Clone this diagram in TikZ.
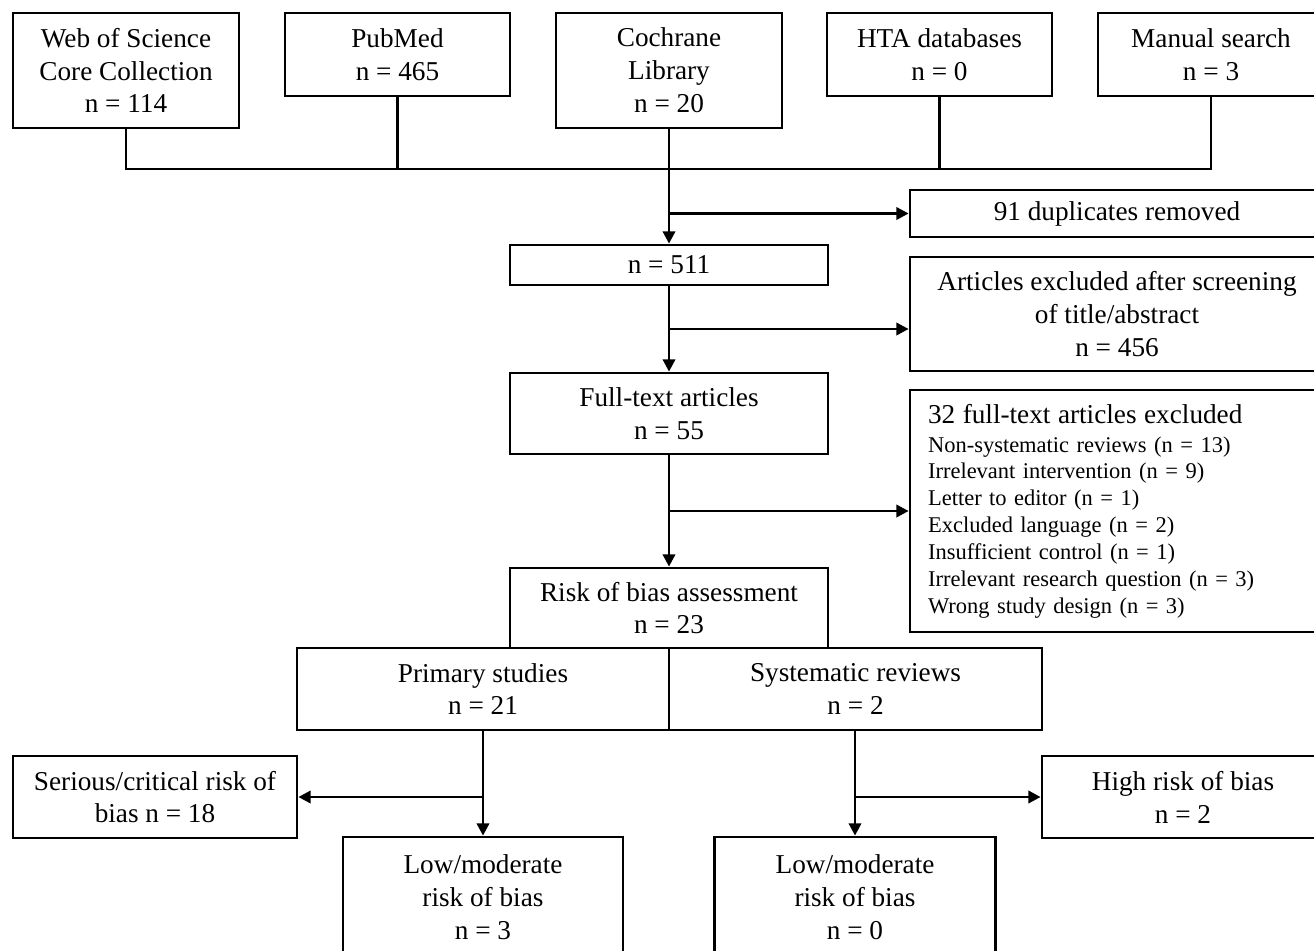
\documentclass[tikz,border=0pt]{standalone}
\usepackage{fontspec}
\setmainfont{Liberation Serif}
\usetikzlibrary{arrows.meta,calc}
\tikzset{
  box/.style={draw, line width=1.6pt, align=center, inner sep=0pt,
    font=\fontsize{15.5}{18.7}\selectfont},
  link/.style={line width=1.6pt},
  arr/.style={line width=1.6pt, -{Triangle[length=7pt,width=7pt]}},
}
\begin{document}
\begin{tikzpicture}[x=0.02cm,y=-0.02cm]
   \clip (0,0) rectangle (1314,950);
   \fill[white] (0,0) rectangle (1314,950);
   % databases
   \node[box, minimum width=4.52cm, minimum height=2.3cm] (wos) at (126,70.5) {Web of Science\\Core Collection\\n = 114};
   \node[box, minimum width=4.5cm, minimum height=1.66cm] (pubmed) at (397.5,54.5) {PubMed\\n = 465};
   \node[box, minimum width=4.52cm, minimum height=2.3cm] (cochrane) at (669,70.5) {Cochrane\\Library\\n = 20};
   \node[box, minimum width=4.5cm, minimum height=1.66cm] (hta) at (939.5,54.5) {HTA databases\\n = 0};
   \node[box, minimum width=4.52cm, minimum height=1.66cm] (manual) at (1211,54.5) {Manual search\\n = 3};
   % main column
   \node[box, minimum width=6.36cm, minimum height=0.8cm] (total) at (669,265) {n = 511};
   \node[box, minimum width=6.36cm, minimum height=1.62cm] (fulltext) at (669,413.5) {Full-text articles\\n = 55};
   \node[box, minimum width=6.36cm, minimum height=1.6cm] (rob) at (669,608) {Risk of bias assessment\\n = 23};
   \node[box, minimum width=7.44cm, minimum height=1.64cm] (primary) at (483,689) {Primary studies\\n = 21};
   \node[box, minimum width=7.46cm, minimum height=1.64cm] (sysrev) at (855.5,689) {Systematic reviews\\n = 2};
   % exclusions
   \node[box, minimum width=8.28cm, minimum height=0.94cm] (dup) at (1117,213.5) {91 duplicates removed};
   \node[box, minimum width=8.28cm, minimum height=2.28cm] (screen) at (1117,314) {Articles excluded after screening\\of title/abstract\\n = 456};
   \node[box, align=left, text width=7.56cm, inner xsep=0.36cm, minimum height=4.84cm,
     font=\fontsize{12.8}{15.3}\selectfont] (excl) at (1117,511)
     {{\fontsize{15.5}{18.7}\selectfont 32 full-text articles excluded}\\[1.2pt]
      Non-systematic reviews (n = 13)\\
      Irrelevant intervention (n = 9)\\
      Letter to editor (n = 1)\\
      Excluded language (n = 2)\\
      Insufficient control (n = 1)\\
      Irrelevant research question (n = 3)\\
      Wrong study design (n = 3)};
   % risk of bias results
   \node[box, minimum width=5.68cm, minimum height=1.64cm] (serious) at (155,797) {Serious/critical risk of\\bias n = 18};
   \node[box, minimum width=5.64cm, minimum height=1.64cm] (high) at (1183,797) {High risk of bias\\n = 2};
   \node[box, minimum width=5.6cm, minimum height=2.4cm] (lowp) at (483,897) {Low/moderate\\risk of bias\\n = 3};
   \node[box, minimum width=5.62cm, minimum height=2.4cm] (lows) at (855,897) {Low/moderate\\risk of bias\\n = 0};
   % connectors
   \coordinate (join) at (669,169);
   \coordinate (mid) at ($(total.south)!0.5!(fulltext.north)$);
   \draw[link] (wos.south) |- (join) -| (manual.south);
   \draw[link] (pubmed.south) -- (pubmed.south |- join);
   \draw[link] (hta.south) -- (hta.south |- join);
   \draw[link] (cochrane.south) -- (join);
   \draw[arr] (join) -- (total.north);
   \draw[arr] (total.north |- dup.west) -- (dup.west);
   \draw[arr] (total.south) -- (fulltext.north);
   \draw[arr] (mid) -- (mid -| screen.west);
   \draw[arr] (fulltext.south) -- (rob.north);
   \draw[arr] (fulltext.south |- excl.west) -- (excl.west);
   \draw[arr] (primary.south) -- (lowp.north);
   \draw[arr] (primary.south |- serious.east) -- (serious.east);
   \draw[arr] (sysrev.south -| lows.north) -- (lows.north);
   \draw[arr] (lows.north |- high.west) -- (high.west);
\end{tikzpicture}
\end{document}
